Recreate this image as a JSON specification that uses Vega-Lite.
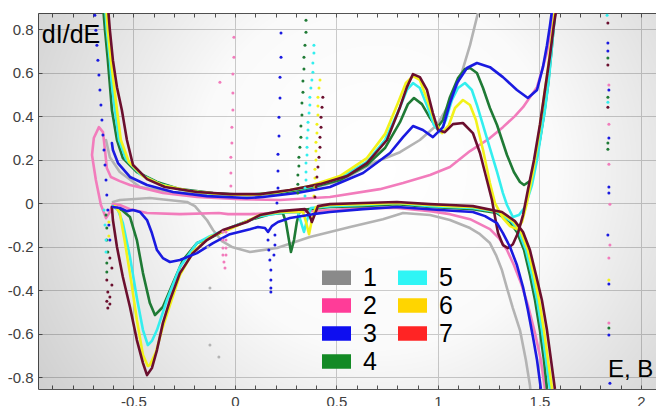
{
  "$schema": "https://vega.github.io/schema/vega-lite/v6.json",
  "width": 618,
  "height": 376,
  "autosize": {"type": "none"},
  "padding": {"left": 38, "top": 13, "right": 0, "bottom": 17},
  "background": "white",
  "config": {
    "view": {"stroke": null},
    "axis": {"labelFont": "Liberation Sans", "labelFontSize": 15, "labelColor": "#404040", "domainColor": "#555555", "tickColor": "#555555", "gridColor": "#cdcdcd", "title": null, "labelOverlap": false, "labelFlush": false}
  },
  "datasets": {
    "lines": [
      {"s":"1","b":"1u","i":1,"E":-0.635,"v":0.290},{"s":"1","b":"1u","i":2,"E":-0.616,"v":0.211},{"s":"1","b":"1u","i":3,"E":-0.567,"v":0.143},{"s":"1","b":"1u","i":4,"E":-0.468,"v":0.074},{"s":"1","b":"1u","i":5,"E":-0.320,"v":0.051},{"s":"1","b":"1u","i":6,"E":-0.172,"v":0.041},{"s":"1","b":"1u","i":7,"E":0.074,"v":0.037},{"s":"1","b":"1u","i":8,"E":0.320,"v":0.055},{"s":"1","b":"1u","i":9,"E":0.517,"v":0.101},{"s":"1","b":"1u","i":10,"E":0.680,"v":0.184},{"s":"1","b":"1u","i":11,"E":0.813,"v":0.234},{"s":"1","b":"1u","i":12,"E":0.911,"v":0.290},{"s":"1","b":"1u","i":13,"E":0.995,"v":0.359},{"s":"1","b":"1u","i":14,"E":1.059,"v":0.460},{"s":"1","b":"1u","i":15,"E":1.118,"v":0.602},{"s":"1","b":"1u","i":16,"E":1.158,"v":0.726},{"s":"1","b":"1u","i":17,"E":1.197,"v":0.874},{"s":"1","b":"1u","i":18,"E":1.217,"v":0.956},
      {"s":"1","b":"1l","i":1,"E":1.458,"v":-0.883},{"s":"1","b":"1l","i":2,"E":1.453,"v":-0.837},{"s":"1","b":"1l","i":3,"E":1.433,"v":-0.722},{"s":"1","b":"1l","i":4,"E":1.404,"v":-0.584},{"s":"1","b":"1l","i":5,"E":1.369,"v":-0.483},{"s":"1","b":"1l","i":6,"E":1.340,"v":-0.391},{"s":"1","b":"1l","i":7,"E":1.315,"v":-0.308},{"s":"1","b":"1l","i":8,"E":1.286,"v":-0.239},{"s":"1","b":"1l","i":9,"E":1.256,"v":-0.184},{"s":"1","b":"1l","i":10,"E":1.207,"v":-0.143},{"s":"1","b":"1l","i":11,"E":1.158,"v":-0.115},{"s":"1","b":"1l","i":12,"E":1.059,"v":-0.078},{"s":"1","b":"1l","i":13,"E":0.961,"v":-0.055},{"s":"1","b":"1l","i":14,"E":0.828,"v":-0.046},{"s":"1","b":"1l","i":15,"E":0.729,"v":-0.074},{"s":"1","b":"1l","i":16,"E":0.567,"v":-0.110},{"s":"1","b":"1l","i":17,"E":0.369,"v":-0.156},{"s":"1","b":"1l","i":18,"E":0.207,"v":-0.207},{"s":"1","b":"1l","i":19,"E":0.074,"v":-0.225},{"s":"1","b":"1l","i":20,"E":-0.015,"v":-0.202},{"s":"1","b":"1l","i":21,"E":-0.064,"v":-0.175},{"s":"1","b":"1l","i":22,"E":-0.108,"v":-0.124},{"s":"1","b":"1l","i":23,"E":-0.138,"v":-0.078},{"s":"1","b":"1l","i":24,"E":-0.197,"v":-0.014},{"s":"1","b":"1l","i":25,"E":-0.236,"v":0.005},{"s":"1","b":"1l","i":26,"E":-0.419,"v":0.023},{"s":"1","b":"1l","i":27,"E":-0.567,"v":0.014},{"s":"1","b":"1l","i":28,"E":-0.601,"v":0.005},
      {"s":"2","b":"2a","i":1,"E":1.532,"v":-0.883},{"s":"2","b":"2a","i":2,"E":1.527,"v":-0.855},{"s":"2","b":"2a","i":3,"E":1.507,"v":-0.722},{"s":"2","b":"2a","i":4,"E":1.478,"v":-0.598},{"s":"2","b":"2a","i":5,"E":1.443,"v":-0.469},{"s":"2","b":"2a","i":6,"E":1.409,"v":-0.368},{"s":"2","b":"2a","i":7,"E":1.374,"v":-0.285},{"s":"2","b":"2a","i":8,"E":1.340,"v":-0.216},{"s":"2","b":"2a","i":9,"E":1.300,"v":-0.161},{"s":"2","b":"2a","i":10,"E":1.256,"v":-0.120},{"s":"2","b":"2a","i":11,"E":1.158,"v":-0.074},{"s":"2","b":"2a","i":12,"E":1.059,"v":-0.051},{"s":"2","b":"2a","i":13,"E":0.961,"v":-0.037},{"s":"2","b":"2a","i":14,"E":0.798,"v":-0.023},{"s":"2","b":"2a","i":15,"E":0.631,"v":-0.023},{"s":"2","b":"2a","i":16,"E":0.468,"v":-0.032},{"s":"2","b":"2a","i":17,"E":0.320,"v":-0.041},{"s":"2","b":"2a","i":18,"E":0.172,"v":-0.046},{"s":"2","b":"2a","i":19,"E":0.074,"v":-0.051},{"s":"2","b":"2a","i":20,"E":-0.034,"v":-0.051},{"s":"2","b":"2a","i":21,"E":-0.079,"v":-0.046},{"s":"2","b":"2a","i":22,"E":-0.271,"v":-0.051},{"s":"2","b":"2a","i":23,"E":-0.433,"v":-0.046},{"s":"2","b":"2a","i":24,"E":-0.517,"v":-0.028},{"s":"2","b":"2a","i":25,"E":-0.567,"v":-0.009},{"s":"2","b":"2a","i":26,"E":-0.601,"v":-0.005},{"s":"2","b":"2a","i":27,"E":-0.616,"v":-0.041},{"s":"2","b":"2a","i":28,"E":-0.635,"v":-0.069},{"s":"2","b":"2a","i":29,"E":-0.660,"v":-0.009},{"s":"2","b":"2a","i":30,"E":-0.685,"v":0.106},{"s":"2","b":"2a","i":31,"E":-0.704,"v":0.221},{"s":"2","b":"2a","i":32,"E":-0.695,"v":0.299},{"s":"2","b":"2a","i":33,"E":-0.670,"v":0.349},{"s":"2","b":"2a","i":34,"E":-0.650,"v":0.326},{"s":"2","b":"2a","i":35,"E":-0.640,"v":0.244},{"s":"2","b":"2a","i":36,"E":-0.631,"v":0.161},{"s":"2","b":"2a","i":37,"E":-0.611,"v":0.120},{"s":"2","b":"2a","i":38,"E":-0.567,"v":0.101},{"s":"2","b":"2a","i":39,"E":-0.517,"v":0.083},{"s":"2","b":"2a","i":40,"E":-0.355,"v":0.046},{"s":"2","b":"2a","i":41,"E":-0.187,"v":0.028},{"s":"2","b":"2a","i":42,"E":0.025,"v":0.018},{"s":"2","b":"2a","i":43,"E":0.222,"v":0.014},{"s":"2","b":"2a","i":44,"E":0.468,"v":0.028},{"s":"2","b":"2a","i":45,"E":0.714,"v":0.064},{"s":"2","b":"2a","i":46,"E":0.828,"v":0.092},{"s":"2","b":"2a","i":47,"E":0.961,"v":0.129},{"s":"2","b":"2a","i":48,"E":1.059,"v":0.166},{"s":"2","b":"2a","i":49,"E":1.158,"v":0.239},{"s":"2","b":"2a","i":50,"E":1.256,"v":0.299},{"s":"2","b":"2a","i":51,"E":1.320,"v":0.349},{"s":"2","b":"2a","i":52,"E":1.379,"v":0.400},{"s":"2","b":"2a","i":53,"E":1.419,"v":0.441},{"s":"2","b":"2a","i":54,"E":1.453,"v":0.487},{"s":"2","b":"2a","i":55,"E":1.488,"v":0.533},{"s":"2","b":"2a","i":56,"E":1.517,"v":0.625},{"s":"2","b":"2a","i":57,"E":1.537,"v":0.694},{"s":"2","b":"2a","i":58,"E":1.552,"v":0.782},{"s":"2","b":"2a","i":59,"E":1.567,"v":0.874},{"s":"2","b":"2a","i":60,"E":1.576,"v":0.933},
      {"s":"4","b":"4l","i":1,"E":1.542,"v":-0.883},{"s":"4","b":"4l","i":2,"E":1.537,"v":-0.855},{"s":"4","b":"4l","i":3,"E":1.522,"v":-0.722},{"s":"4","b":"4l","i":4,"E":1.502,"v":-0.584},{"s":"4","b":"4l","i":5,"E":1.478,"v":-0.446},{"s":"4","b":"4l","i":6,"E":1.453,"v":-0.331},{"s":"4","b":"4l","i":7,"E":1.424,"v":-0.216},{"s":"4","b":"4l","i":8,"E":1.389,"v":-0.133},{"s":"4","b":"4l","i":9,"E":1.355,"v":-0.087},{"s":"4","b":"4l","i":10,"E":1.291,"v":-0.046},{"s":"4","b":"4l","i":11,"E":1.172,"v":-0.028},{"s":"4","b":"4l","i":12,"E":1.059,"v":-0.023},{"s":"4","b":"4l","i":13,"E":0.961,"v":-0.018},{"s":"4","b":"4l","i":14,"E":0.798,"v":-0.005},{"s":"4","b":"4l","i":15,"E":0.631,"v":-0.014},{"s":"4","b":"4l","i":16,"E":0.468,"v":-0.018},{"s":"4","b":"4l","i":17,"E":0.320,"v":-0.032},{"s":"4","b":"4l","i":18,"E":0.305,"v":-0.087},{"s":"4","b":"4l","i":19,"E":0.291,"v":-0.170},{"s":"4","b":"4l","i":20,"E":0.276,"v":-0.225},{"s":"4","b":"4l","i":21,"E":0.266,"v":-0.170},{"s":"4","b":"4l","i":22,"E":0.251,"v":-0.087},{"s":"4","b":"4l","i":23,"E":0.236,"v":-0.046},{"s":"4","b":"4l","i":24,"E":0.172,"v":-0.051},{"s":"4","b":"4l","i":25,"E":0.074,"v":-0.078},{"s":"4","b":"4l","i":26,"E":-0.025,"v":-0.115},{"s":"4","b":"4l","i":27,"E":-0.123,"v":-0.161},{"s":"4","b":"4l","i":28,"E":-0.187,"v":-0.184},{"s":"4","b":"4l","i":29,"E":-0.256,"v":-0.262},{"s":"4","b":"4l","i":30,"E":-0.305,"v":-0.368},{"s":"4","b":"4l","i":31,"E":-0.355,"v":-0.478},{"s":"4","b":"4l","i":32,"E":-0.394,"v":-0.515},{"s":"4","b":"4l","i":33,"E":-0.419,"v":-0.460},{"s":"4","b":"4l","i":34,"E":-0.453,"v":-0.322},{"s":"4","b":"4l","i":35,"E":-0.483,"v":-0.170},{"s":"4","b":"4l","i":36,"E":-0.517,"v":-0.064},{"s":"4","b":"4l","i":37,"E":-0.557,"v":-0.032},{"s":"4","b":"4l","i":38,"E":-0.591,"v":-0.018},
      {"s":"4","b":"4u","i":1,"E":-0.650,"v":0.910},{"s":"4","b":"4u","i":2,"E":-0.640,"v":0.795},{"s":"4","b":"4u","i":3,"E":-0.626,"v":0.657},{"s":"4","b":"4u","i":4,"E":-0.616,"v":0.543},{"s":"4","b":"4u","i":5,"E":-0.606,"v":0.428},{"s":"4","b":"4u","i":6,"E":-0.581,"v":0.290},{"s":"4","b":"4u","i":7,"E":-0.552,"v":0.207},{"s":"4","b":"4u","i":8,"E":-0.483,"v":0.143},{"s":"4","b":"4u","i":9,"E":-0.384,"v":0.097},{"s":"4","b":"4u","i":10,"E":-0.271,"v":0.064},{"s":"4","b":"4u","i":11,"E":-0.108,"v":0.046},{"s":"4","b":"4u","i":12,"E":0.059,"v":0.037},{"s":"4","b":"4u","i":13,"E":0.222,"v":0.046},{"s":"4","b":"4u","i":14,"E":0.369,"v":0.069},{"s":"4","b":"4u","i":15,"E":0.517,"v":0.106},{"s":"4","b":"4u","i":16,"E":0.650,"v":0.175},{"s":"4","b":"4u","i":17,"E":0.739,"v":0.253},{"s":"4","b":"4u","i":18,"E":0.813,"v":0.372},{"s":"4","b":"4u","i":19,"E":0.852,"v":0.455},{"s":"4","b":"4u","i":20,"E":0.882,"v":0.483},{"s":"4","b":"4u","i":21,"E":0.921,"v":0.455},{"s":"4","b":"4u","i":22,"E":0.961,"v":0.391},{"s":"4","b":"4u","i":23,"E":0.995,"v":0.345},{"s":"4","b":"4u","i":24,"E":1.025,"v":0.382},{"s":"4","b":"4u","i":25,"E":1.059,"v":0.487},{"s":"4","b":"4u","i":26,"E":1.099,"v":0.575},{"s":"4","b":"4u","i":27,"E":1.133,"v":0.616},{"s":"4","b":"4u","i":28,"E":1.158,"v":0.621},{"s":"4","b":"4u","i":29,"E":1.192,"v":0.598},{"s":"4","b":"4u","i":30,"E":1.222,"v":0.529},{"s":"4","b":"4u","i":31,"E":1.256,"v":0.437},{"s":"4","b":"4u","i":32,"E":1.291,"v":0.359},{"s":"4","b":"4u","i":33,"E":1.340,"v":0.221},{"s":"4","b":"4u","i":34,"E":1.374,"v":0.143},{"s":"4","b":"4u","i":35,"E":1.404,"v":0.097},{"s":"4","b":"4u","i":36,"E":1.424,"v":0.083},{"s":"4","b":"4u","i":37,"E":1.453,"v":0.101},{"s":"4","b":"4u","i":38,"E":1.478,"v":0.175},{"s":"4","b":"4u","i":39,"E":1.502,"v":0.290},{"s":"4","b":"4u","i":40,"E":1.522,"v":0.405},{"s":"4","b":"4u","i":41,"E":1.542,"v":0.543},{"s":"4","b":"4u","i":42,"E":1.557,"v":0.680},{"s":"4","b":"4u","i":43,"E":1.571,"v":0.818},{"s":"4","b":"4u","i":44,"E":1.581,"v":0.910},
      {"s":"5","b":"5l","i":1,"E":1.557,"v":-0.883},{"s":"5","b":"5l","i":2,"E":1.552,"v":-0.855},{"s":"5","b":"5l","i":3,"E":1.532,"v":-0.722},{"s":"5","b":"5l","i":4,"E":1.512,"v":-0.584},{"s":"5","b":"5l","i":5,"E":1.488,"v":-0.446},{"s":"5","b":"5l","i":6,"E":1.463,"v":-0.331},{"s":"5","b":"5l","i":7,"E":1.433,"v":-0.216},{"s":"5","b":"5l","i":8,"E":1.399,"v":-0.133},{"s":"5","b":"5l","i":9,"E":1.365,"v":-0.087},{"s":"5","b":"5l","i":10,"E":1.291,"v":-0.041},{"s":"5","b":"5l","i":11,"E":1.172,"v":-0.023},{"s":"5","b":"5l","i":12,"E":1.059,"v":-0.018},{"s":"5","b":"5l","i":13,"E":0.961,"v":-0.014},{"s":"5","b":"5l","i":14,"E":0.798,"v":0.000},{"s":"5","b":"5l","i":15,"E":0.631,"v":-0.009},{"s":"5","b":"5l","i":16,"E":0.468,"v":-0.014},{"s":"5","b":"5l","i":17,"E":0.374,"v":-0.023},{"s":"5","b":"5l","i":18,"E":0.355,"v":-0.078},{"s":"5","b":"5l","i":19,"E":0.340,"v":-0.133},{"s":"5","b":"5l","i":20,"E":0.325,"v":-0.087},{"s":"5","b":"5l","i":21,"E":0.310,"v":-0.041},{"s":"5","b":"5l","i":22,"E":0.222,"v":-0.046},{"s":"5","b":"5l","i":23,"E":0.123,"v":-0.060},{"s":"5","b":"5l","i":24,"E":0.059,"v":-0.083},{"s":"5","b":"5l","i":25,"E":-0.025,"v":-0.115},{"s":"5","b":"5l","i":26,"E":-0.123,"v":-0.152},{"s":"5","b":"5l","i":27,"E":-0.187,"v":-0.184},{"s":"5","b":"5l","i":28,"E":-0.271,"v":-0.294},{"s":"5","b":"5l","i":29,"E":-0.335,"v":-0.446},{"s":"5","b":"5l","i":30,"E":-0.384,"v":-0.584},{"s":"5","b":"5l","i":31,"E":-0.409,"v":-0.634},{"s":"5","b":"5l","i":32,"E":-0.429,"v":-0.653},{"s":"5","b":"5l","i":33,"E":-0.453,"v":-0.584},{"s":"5","b":"5l","i":34,"E":-0.483,"v":-0.437},{"s":"5","b":"5l","i":35,"E":-0.517,"v":-0.248},{"s":"5","b":"5l","i":36,"E":-0.552,"v":-0.092},{"s":"5","b":"5l","i":37,"E":-0.576,"v":-0.032},{"s":"5","b":"5l","i":38,"E":-0.601,"v":-0.014},
      {"s":"5","b":"5u","i":1,"E":-0.640,"v":0.910},{"s":"5","b":"5u","i":2,"E":-0.631,"v":0.795},{"s":"5","b":"5u","i":3,"E":-0.616,"v":0.657},{"s":"5","b":"5u","i":4,"E":-0.606,"v":0.543},{"s":"5","b":"5u","i":5,"E":-0.591,"v":0.428},{"s":"5","b":"5u","i":6,"E":-0.571,"v":0.290},{"s":"5","b":"5u","i":7,"E":-0.537,"v":0.202},{"s":"5","b":"5u","i":8,"E":-0.468,"v":0.133},{"s":"5","b":"5u","i":9,"E":-0.369,"v":0.087},{"s":"5","b":"5u","i":10,"E":-0.256,"v":0.060},{"s":"5","b":"5u","i":11,"E":-0.099,"v":0.041},{"s":"5","b":"5u","i":12,"E":0.059,"v":0.037},{"s":"5","b":"5u","i":13,"E":0.222,"v":0.051},{"s":"5","b":"5u","i":14,"E":0.369,"v":0.074},{"s":"5","b":"5u","i":15,"E":0.517,"v":0.115},{"s":"5","b":"5u","i":16,"E":0.650,"v":0.189},{"s":"5","b":"5u","i":17,"E":0.739,"v":0.290},{"s":"5","b":"5u","i":18,"E":0.803,"v":0.418},{"s":"5","b":"5u","i":19,"E":0.847,"v":0.520},{"s":"5","b":"5u","i":20,"E":0.877,"v":0.552},{"s":"5","b":"5u","i":21,"E":0.911,"v":0.529},{"s":"5","b":"5u","i":22,"E":0.951,"v":0.437},{"s":"5","b":"5u","i":23,"E":0.980,"v":0.359},{"s":"5","b":"5u","i":24,"E":1.010,"v":0.326},{"s":"5","b":"5u","i":25,"E":1.039,"v":0.382},{"s":"5","b":"5u","i":26,"E":1.069,"v":0.474},{"s":"5","b":"5u","i":27,"E":1.099,"v":0.529},{"s":"5","b":"5u","i":28,"E":1.133,"v":0.552},{"s":"5","b":"5u","i":29,"E":1.167,"v":0.520},{"s":"5","b":"5u","i":30,"E":1.192,"v":0.451},{"s":"5","b":"5u","i":31,"E":1.241,"v":0.299},{"s":"5","b":"5u","i":32,"E":1.291,"v":0.143},{"s":"5","b":"5u","i":33,"E":1.320,"v":0.046},{"s":"5","b":"5u","i":34,"E":1.340,"v":-0.009},{"s":"5","b":"5u","i":35,"E":1.369,"v":-0.064},{"s":"5","b":"5u","i":36,"E":1.399,"v":-0.055},{"s":"5","b":"5u","i":37,"E":1.429,"v":-0.018},{"s":"5","b":"5u","i":38,"E":1.463,"v":0.083},{"s":"5","b":"5u","i":39,"E":1.488,"v":0.198},{"s":"5","b":"5u","i":40,"E":1.507,"v":0.313},{"s":"5","b":"5u","i":41,"E":1.527,"v":0.428},{"s":"5","b":"5u","i":42,"E":1.547,"v":0.575},{"s":"5","b":"5u","i":43,"E":1.562,"v":0.726},{"s":"5","b":"5u","i":44,"E":1.576,"v":0.864},{"s":"5","b":"5u","i":45,"E":1.581,"v":0.910},
      {"s":"6","b":"6l","i":1,"E":1.567,"v":-0.883},{"s":"6","b":"6l","i":2,"E":1.562,"v":-0.855},{"s":"6","b":"6l","i":3,"E":1.542,"v":-0.722},{"s":"6","b":"6l","i":4,"E":1.522,"v":-0.584},{"s":"6","b":"6l","i":5,"E":1.498,"v":-0.446},{"s":"6","b":"6l","i":6,"E":1.473,"v":-0.331},{"s":"6","b":"6l","i":7,"E":1.443,"v":-0.216},{"s":"6","b":"6l","i":8,"E":1.409,"v":-0.133},{"s":"6","b":"6l","i":9,"E":1.374,"v":-0.087},{"s":"6","b":"6l","i":10,"E":1.305,"v":-0.041},{"s":"6","b":"6l","i":11,"E":1.172,"v":-0.018},{"s":"6","b":"6l","i":12,"E":1.059,"v":-0.014},{"s":"6","b":"6l","i":13,"E":0.961,"v":-0.009},{"s":"6","b":"6l","i":14,"E":0.798,"v":0.000},{"s":"6","b":"6l","i":15,"E":0.631,"v":-0.005},{"s":"6","b":"6l","i":16,"E":0.468,"v":-0.009},{"s":"6","b":"6l","i":17,"E":0.399,"v":-0.018},{"s":"6","b":"6l","i":18,"E":0.379,"v":-0.078},{"s":"6","b":"6l","i":19,"E":0.365,"v":-0.143},{"s":"6","b":"6l","i":20,"E":0.350,"v":-0.087},{"s":"6","b":"6l","i":21,"E":0.335,"v":-0.041},{"s":"6","b":"6l","i":22,"E":0.222,"v":-0.041},{"s":"6","b":"6l","i":23,"E":0.123,"v":-0.055},{"s":"6","b":"6l","i":24,"E":0.059,"v":-0.083},{"s":"6","b":"6l","i":25,"E":-0.025,"v":-0.120},{"s":"6","b":"6l","i":26,"E":-0.123,"v":-0.156},{"s":"6","b":"6l","i":27,"E":-0.207,"v":-0.225},{"s":"6","b":"6l","i":28,"E":-0.271,"v":-0.331},{"s":"6","b":"6l","i":29,"E":-0.320,"v":-0.469},{"s":"6","b":"6l","i":30,"E":-0.360,"v":-0.584},{"s":"6","b":"6l","i":31,"E":-0.389,"v":-0.685},{"s":"6","b":"6l","i":32,"E":-0.419,"v":-0.745},{"s":"6","b":"6l","i":33,"E":-0.429,"v":-0.749},{"s":"6","b":"6l","i":34,"E":-0.453,"v":-0.699},{"s":"6","b":"6l","i":35,"E":-0.483,"v":-0.538},{"s":"6","b":"6l","i":36,"E":-0.512,"v":-0.354},{"s":"6","b":"6l","i":37,"E":-0.542,"v":-0.179},{"s":"6","b":"6l","i":38,"E":-0.567,"v":-0.046},{"s":"6","b":"6l","i":39,"E":-0.591,"v":-0.014},
      {"s":"6","b":"6u","i":1,"E":-0.635,"v":0.910},{"s":"6","b":"6u","i":2,"E":-0.626,"v":0.795},{"s":"6","b":"6u","i":3,"E":-0.611,"v":0.657},{"s":"6","b":"6u","i":4,"E":-0.596,"v":0.543},{"s":"6","b":"6u","i":5,"E":-0.581,"v":0.428},{"s":"6","b":"6u","i":6,"E":-0.562,"v":0.290},{"s":"6","b":"6u","i":7,"E":-0.522,"v":0.189},{"s":"6","b":"6u","i":8,"E":-0.453,"v":0.124},{"s":"6","b":"6u","i":9,"E":-0.360,"v":0.083},{"s":"6","b":"6u","i":10,"E":-0.222,"v":0.055},{"s":"6","b":"6u","i":11,"E":-0.074,"v":0.041},{"s":"6","b":"6u","i":12,"E":0.074,"v":0.037},{"s":"6","b":"6u","i":13,"E":0.222,"v":0.051},{"s":"6","b":"6u","i":14,"E":0.369,"v":0.078},{"s":"6","b":"6u","i":15,"E":0.517,"v":0.124},{"s":"6","b":"6u","i":16,"E":0.650,"v":0.207},{"s":"6","b":"6u","i":17,"E":0.739,"v":0.317},{"s":"6","b":"6u","i":18,"E":0.803,"v":0.460},{"s":"6","b":"6u","i":19,"E":0.842,"v":0.552},{"s":"6","b":"6u","i":20,"E":0.877,"v":0.584},{"s":"6","b":"6u","i":21,"E":0.911,"v":0.566},{"s":"6","b":"6u","i":22,"E":0.951,"v":0.464},{"s":"6","b":"6u","i":23,"E":0.985,"v":0.372},{"s":"6","b":"6u","i":24,"E":1.020,"v":0.322},{"s":"6","b":"6u","i":25,"E":1.054,"v":0.359},{"s":"6","b":"6u","i":26,"E":1.084,"v":0.437},{"s":"6","b":"6u","i":27,"E":1.123,"v":0.474},{"s":"6","b":"6u","i":28,"E":1.158,"v":0.451},{"s":"6","b":"6u","i":29,"E":1.187,"v":0.382},{"s":"6","b":"6u","i":30,"E":1.222,"v":0.244},{"s":"6","b":"6u","i":31,"E":1.256,"v":0.092},{"s":"6","b":"6u","i":32,"E":1.281,"v":0.000},{"s":"6","b":"6u","i":33,"E":1.320,"v":-0.069},{"s":"6","b":"6u","i":34,"E":1.355,"v":-0.106},{"s":"6","b":"6u","i":35,"E":1.389,"v":-0.120},{"s":"6","b":"6u","i":36,"E":1.414,"v":-0.087},{"s":"6","b":"6u","i":37,"E":1.438,"v":0.000},{"s":"6","b":"6u","i":38,"E":1.468,"v":0.143},{"s":"6","b":"6u","i":39,"E":1.493,"v":0.290},{"s":"6","b":"6u","i":40,"E":1.517,"v":0.451},{"s":"6","b":"6u","i":41,"E":1.542,"v":0.621},{"s":"6","b":"6u","i":42,"E":1.562,"v":0.772},{"s":"6","b":"6u","i":43,"E":1.576,"v":0.887},{"s":"6","b":"6u","i":44,"E":1.585,"v":0.940},
      {"s":"7","b":"7l","i":1,"E":1.581,"v":-0.883},{"s":"7","b":"7l","i":2,"E":1.576,"v":-0.855},{"s":"7","b":"7l","i":3,"E":1.557,"v":-0.722},{"s":"7","b":"7l","i":4,"E":1.537,"v":-0.584},{"s":"7","b":"7l","i":5,"E":1.512,"v":-0.446},{"s":"7","b":"7l","i":6,"E":1.483,"v":-0.331},{"s":"7","b":"7l","i":7,"E":1.453,"v":-0.216},{"s":"7","b":"7l","i":8,"E":1.419,"v":-0.133},{"s":"7","b":"7l","i":9,"E":1.379,"v":-0.083},{"s":"7","b":"7l","i":10,"E":1.315,"v":-0.041},{"s":"7","b":"7l","i":11,"E":1.172,"v":-0.014},{"s":"7","b":"7l","i":12,"E":1.059,"v":-0.009},{"s":"7","b":"7l","i":13,"E":0.961,"v":-0.005},{"s":"7","b":"7l","i":14,"E":0.798,"v":0.005},{"s":"7","b":"7l","i":15,"E":0.631,"v":0.000},{"s":"7","b":"7l","i":16,"E":0.468,"v":-0.005},{"s":"7","b":"7l","i":17,"E":0.409,"v":-0.014},{"s":"7","b":"7l","i":18,"E":0.394,"v":-0.051},{"s":"7","b":"7l","i":19,"E":0.379,"v":-0.087},{"s":"7","b":"7l","i":20,"E":0.365,"v":-0.051},{"s":"7","b":"7l","i":21,"E":0.345,"v":-0.028},{"s":"7","b":"7l","i":22,"E":0.222,"v":-0.037},{"s":"7","b":"7l","i":23,"E":0.123,"v":-0.055},{"s":"7","b":"7l","i":24,"E":0.059,"v":-0.087},{"s":"7","b":"7l","i":25,"E":-0.059,"v":-0.124},{"s":"7","b":"7l","i":26,"E":-0.138,"v":-0.170},{"s":"7","b":"7l","i":27,"E":-0.207,"v":-0.230},{"s":"7","b":"7l","i":28,"E":-0.271,"v":-0.322},{"s":"7","b":"7l","i":29,"E":-0.320,"v":-0.446},{"s":"7","b":"7l","i":30,"E":-0.355,"v":-0.552},{"s":"7","b":"7l","i":31,"E":-0.384,"v":-0.676},{"s":"7","b":"7l","i":32,"E":-0.409,"v":-0.759},{"s":"7","b":"7l","i":33,"E":-0.433,"v":-0.791},{"s":"7","b":"7l","i":34,"E":-0.453,"v":-0.736},{"s":"7","b":"7l","i":35,"E":-0.483,"v":-0.630},{"s":"7","b":"7l","i":36,"E":-0.517,"v":-0.478},{"s":"7","b":"7l","i":37,"E":-0.552,"v":-0.340},{"s":"7","b":"7l","i":38,"E":-0.581,"v":-0.202},{"s":"7","b":"7l","i":39,"E":-0.601,"v":-0.078},{"s":"7","b":"7l","i":40,"E":-0.606,"v":-0.018},
      {"s":"7","b":"7u","i":1,"E":-0.626,"v":0.910},{"s":"7","b":"7u","i":2,"E":-0.616,"v":0.795},{"s":"7","b":"7u","i":3,"E":-0.601,"v":0.657},{"s":"7","b":"7u","i":4,"E":-0.581,"v":0.533},{"s":"7","b":"7u","i":5,"E":-0.557,"v":0.428},{"s":"7","b":"7u","i":6,"E":-0.532,"v":0.290},{"s":"7","b":"7u","i":7,"E":-0.502,"v":0.175},{"s":"7","b":"7u","i":8,"E":-0.433,"v":0.110},{"s":"7","b":"7u","i":9,"E":-0.345,"v":0.074},{"s":"7","b":"7u","i":10,"E":-0.187,"v":0.051},{"s":"7","b":"7u","i":11,"E":-0.025,"v":0.041},{"s":"7","b":"7u","i":12,"E":0.123,"v":0.041},{"s":"7","b":"7u","i":13,"E":0.271,"v":0.060},{"s":"7","b":"7u","i":14,"E":0.419,"v":0.087},{"s":"7","b":"7u","i":15,"E":0.552,"v":0.124},{"s":"7","b":"7u","i":16,"E":0.650,"v":0.184},{"s":"7","b":"7u","i":17,"E":0.749,"v":0.290},{"s":"7","b":"7u","i":18,"E":0.813,"v":0.441},{"s":"7","b":"7u","i":19,"E":0.847,"v":0.533},{"s":"7","b":"7u","i":20,"E":0.877,"v":0.593},{"s":"7","b":"7u","i":21,"E":0.911,"v":0.579},{"s":"7","b":"7u","i":22,"E":0.946,"v":0.520},{"s":"7","b":"7u","i":23,"E":0.975,"v":0.414},{"s":"7","b":"7u","i":24,"E":1.000,"v":0.336},{"s":"7","b":"7u","i":25,"E":1.034,"v":0.326},{"s":"7","b":"7u","i":26,"E":1.074,"v":0.363},{"s":"7","b":"7u","i":27,"E":1.123,"v":0.368},{"s":"7","b":"7u","i":28,"E":1.172,"v":0.322},{"s":"7","b":"7u","i":29,"E":1.207,"v":0.230},{"s":"7","b":"7u","i":30,"E":1.241,"v":0.106},{"s":"7","b":"7u","i":31,"E":1.266,"v":0.014},{"s":"7","b":"7u","i":32,"E":1.281,"v":-0.064},{"s":"7","b":"7u","i":33,"E":1.296,"v":-0.138},{"s":"7","b":"7u","i":34,"E":1.320,"v":-0.193},{"s":"7","b":"7u","i":35,"E":1.345,"v":-0.207},{"s":"7","b":"7u","i":36,"E":1.369,"v":-0.189},{"s":"7","b":"7u","i":37,"E":1.394,"v":-0.138},{"s":"7","b":"7u","i":38,"E":1.419,"v":-0.055},{"s":"7","b":"7u","i":39,"E":1.443,"v":0.060},{"s":"7","b":"7u","i":40,"E":1.473,"v":0.198},{"s":"7","b":"7u","i":41,"E":1.502,"v":0.359},{"s":"7","b":"7u","i":42,"E":1.527,"v":0.520},{"s":"7","b":"7u","i":43,"E":1.552,"v":0.680},{"s":"7","b":"7u","i":44,"E":1.571,"v":0.818},{"s":"7","b":"7u","i":45,"E":1.586,"v":0.910},
      {"s":"3","b":"3l","i":1,"E":1.512,"v":-0.883},{"s":"3","b":"3l","i":2,"E":1.507,"v":-0.855},{"s":"3","b":"3l","i":3,"E":1.488,"v":-0.722},{"s":"3","b":"3l","i":4,"E":1.468,"v":-0.616},{"s":"3","b":"3l","i":5,"E":1.443,"v":-0.492},{"s":"3","b":"3l","i":6,"E":1.419,"v":-0.386},{"s":"3","b":"3l","i":7,"E":1.389,"v":-0.285},{"s":"3","b":"3l","i":8,"E":1.355,"v":-0.202},{"s":"3","b":"3l","i":9,"E":1.320,"v":-0.138},{"s":"3","b":"3l","i":10,"E":1.291,"v":-0.092},{"s":"3","b":"3l","i":11,"E":1.232,"v":-0.060},{"s":"3","b":"3l","i":12,"E":1.172,"v":-0.041},{"s":"3","b":"3l","i":13,"E":1.010,"v":-0.032},{"s":"3","b":"3l","i":14,"E":0.798,"v":-0.018},{"s":"3","b":"3l","i":15,"E":0.631,"v":-0.028},{"s":"3","b":"3l","i":16,"E":0.468,"v":-0.041},{"s":"3","b":"3l","i":17,"E":0.384,"v":-0.051},{"s":"3","b":"3l","i":18,"E":0.271,"v":-0.069},{"s":"3","b":"3l","i":19,"E":0.212,"v":-0.087},{"s":"3","b":"3l","i":20,"E":0.182,"v":-0.106},{"s":"3","b":"3l","i":21,"E":0.163,"v":-0.133},{"s":"3","b":"3l","i":22,"E":0.148,"v":-0.115},{"s":"3","b":"3l","i":23,"E":0.113,"v":-0.110},{"s":"3","b":"3l","i":24,"E":0.074,"v":-0.120},{"s":"3","b":"3l","i":25,"E":-0.025,"v":-0.143},{"s":"3","b":"3l","i":26,"E":-0.108,"v":-0.184},{"s":"3","b":"3l","i":27,"E":-0.187,"v":-0.230},{"s":"3","b":"3l","i":28,"E":-0.271,"v":-0.262},{"s":"3","b":"3l","i":29,"E":-0.320,"v":-0.271},{"s":"3","b":"3l","i":30,"E":-0.355,"v":-0.253},{"s":"3","b":"3l","i":31,"E":-0.384,"v":-0.216},{"s":"3","b":"3l","i":32,"E":-0.409,"v":-0.138},{"s":"3","b":"3l","i":33,"E":-0.433,"v":-0.078},{"s":"3","b":"3l","i":34,"E":-0.468,"v":-0.041},{"s":"3","b":"3l","i":35,"E":-0.502,"v":-0.032},{"s":"3","b":"3l","i":36,"E":-0.532,"v":-0.037},{"s":"3","b":"3l","i":37,"E":-0.567,"v":-0.023},{"s":"3","b":"3l","i":38,"E":-0.601,"v":-0.018},
      {"s":"3","b":"3u","i":1,"E":-0.606,"v":0.276},{"s":"3","b":"3u","i":2,"E":-0.601,"v":0.244},{"s":"3","b":"3u","i":3,"E":-0.576,"v":0.184},{"s":"3","b":"3u","i":4,"E":-0.517,"v":0.120},{"s":"3","b":"3u","i":5,"E":-0.433,"v":0.083},{"s":"3","b":"3u","i":6,"E":-0.305,"v":0.051},{"s":"3","b":"3u","i":7,"E":-0.138,"v":0.032},{"s":"3","b":"3u","i":8,"E":0.059,"v":0.023},{"s":"3","b":"3u","i":9,"E":0.138,"v":0.028},{"s":"3","b":"3u","i":10,"E":0.305,"v":0.046},{"s":"3","b":"3u","i":11,"E":0.468,"v":0.074},{"s":"3","b":"3u","i":12,"E":0.631,"v":0.138},{"s":"3","b":"3u","i":13,"E":0.764,"v":0.230},{"s":"3","b":"3u","i":14,"E":0.828,"v":0.303},{"s":"3","b":"3u","i":15,"E":0.877,"v":0.354},{"s":"3","b":"3u","i":16,"E":0.926,"v":0.336},{"s":"3","b":"3u","i":17,"E":0.975,"v":0.303},{"s":"3","b":"3u","i":18,"E":1.025,"v":0.349},{"s":"3","b":"3u","i":19,"E":1.059,"v":0.460},{"s":"3","b":"3u","i":20,"E":1.094,"v":0.552},{"s":"3","b":"3u","i":21,"E":1.143,"v":0.621},{"s":"3","b":"3u","i":22,"E":1.192,"v":0.644},{"s":"3","b":"3u","i":23,"E":1.256,"v":0.625},{"s":"3","b":"3u","i":24,"E":1.320,"v":0.579},{"s":"3","b":"3u","i":25,"E":1.389,"v":0.520},{"s":"3","b":"3u","i":26,"E":1.443,"v":0.483},{"s":"3","b":"3u","i":27,"E":1.488,"v":0.520},{"s":"3","b":"3u","i":28,"E":1.517,"v":0.625},{"s":"3","b":"3u","i":29,"E":1.537,"v":0.726},{"s":"3","b":"3u","i":30,"E":1.552,"v":0.818},{"s":"3","b":"3u","i":31,"E":1.562,"v":0.887},{"s":"3","b":"3u","i":32,"E":1.567,"v":0.930}
    ],
    "dots": [
      {"s":"3","E":-0.690,"v":0.864},{"s":"3","E":-0.685,"v":0.795},{"s":"3","E":-0.680,"v":0.726},{"s":"3","E":-0.675,"v":0.657},{"s":"3","E":-0.670,"v":0.589},{"s":"3","E":-0.665,"v":0.520},{"s":"3","E":-0.660,"v":0.451},{"s":"3","E":-0.655,"v":0.382},{"s":"3","E":-0.650,"v":0.313},{"s":"3","E":-0.645,"v":0.244},{"s":"3","E":-0.640,"v":0.175},{"s":"3","E":-0.635,"v":0.106},{"s":"3","E":-0.631,"v":0.037},{"s":"3","E":-0.626,"v":-0.032},{"s":"3","E":-0.621,"v":-0.101},{"s":"3","E":-0.616,"v":-0.170},
      {"s":"4","E":-0.635,"v":-0.055},{"s":"4","E":-0.631,"v":-0.115},{"s":"4","E":-0.631,"v":-0.170},{"s":"4","E":-0.626,"v":-0.225},{"s":"4","E":-0.631,"v":-0.276},{"s":"4","E":-0.631,"v":-0.317},
      {"s":"5","E":-0.645,"v":-0.032},{"s":"5","E":-0.640,"v":-0.101},{"s":"5","E":-0.635,"v":-0.170},{"s":"5","E":-0.635,"v":-0.225},
      {"s":"6","E":-0.621,"v":-0.087},{"s":"6","E":-0.621,"v":-0.152},
      {"s":"7","E":-0.616,"v":-0.253},{"s":"7","E":-0.606,"v":-0.299},{"s":"7","E":-0.631,"v":-0.354},{"s":"7","E":-0.606,"v":-0.377},{"s":"7","E":-0.626,"v":-0.409},{"s":"7","E":-0.616,"v":-0.432},{"s":"7","E":-0.631,"v":-0.451},{"s":"7","E":-0.616,"v":-0.464},{"s":"7","E":-0.626,"v":-0.483},
      {"s":"3","E":0.227,"v":0.782},{"s":"3","E":0.227,"v":0.671},{"s":"3","E":0.222,"v":0.579},{"s":"3","E":0.222,"v":0.483},{"s":"3","E":0.217,"v":0.395},{"s":"3","E":0.217,"v":0.308},{"s":"3","E":0.212,"v":0.225},{"s":"3","E":0.212,"v":0.147},{"s":"3","E":0.212,"v":0.069},{"s":"3","E":0.207,"v":0.000},
      {"s":"3","E":0.163,"v":-0.170},{"s":"3","E":0.167,"v":-0.216},{"s":"3","E":0.172,"v":-0.262},{"s":"3","E":0.177,"v":-0.308},{"s":"3","E":0.177,"v":-0.354},{"s":"3","E":0.177,"v":-0.391},{"s":"3","E":0.177,"v":-0.409},{"s":"3","E":0.197,"v":-0.147},{"s":"3","E":0.197,"v":-0.193},{"s":"3","E":0.192,"v":-0.239},
      {"s":"4","E":0.350,"v":0.841},{"s":"4","E":0.350,"v":0.786},{"s":"4","E":0.345,"v":0.726},{"s":"4","E":0.340,"v":0.671},{"s":"4","E":0.340,"v":0.616},{"s":"4","E":0.335,"v":0.561},{"s":"4","E":0.335,"v":0.510},{"s":"4","E":0.330,"v":0.460},{"s":"4","E":0.330,"v":0.405},{"s":"4","E":0.325,"v":0.354},{"s":"4","E":0.325,"v":0.303},{"s":"4","E":0.320,"v":0.257},{"s":"4","E":0.315,"v":0.211},{"s":"4","E":0.315,"v":0.170},{"s":"4","E":0.310,"v":0.129},{"s":"4","E":0.310,"v":0.087},{"s":"4","E":0.310,"v":0.046},
      {"s":"5","E":0.389,"v":0.726},{"s":"5","E":0.389,"v":0.690},{"s":"5","E":0.384,"v":0.644},{"s":"5","E":0.384,"v":0.602},{"s":"5","E":0.379,"v":0.566},{"s":"5","E":0.374,"v":0.529},{"s":"5","E":0.369,"v":0.487},{"s":"5","E":0.369,"v":0.451},{"s":"5","E":0.365,"v":0.414},{"s":"5","E":0.360,"v":0.372},{"s":"5","E":0.360,"v":0.336},{"s":"5","E":0.355,"v":0.299},{"s":"5","E":0.355,"v":0.257},{"s":"5","E":0.355,"v":0.221},{"s":"5","E":0.350,"v":0.184},{"s":"5","E":0.350,"v":0.143},{"s":"5","E":0.350,"v":0.106},{"s":"5","E":0.345,"v":0.069},{"s":"5","E":0.345,"v":0.032},
      {"s":"6","E":0.419,"v":0.566},{"s":"6","E":0.414,"v":0.529},{"s":"6","E":0.409,"v":0.487},{"s":"6","E":0.409,"v":0.446},{"s":"6","E":0.409,"v":0.405},{"s":"6","E":0.404,"v":0.363},{"s":"6","E":0.404,"v":0.322},{"s":"6","E":0.399,"v":0.280},{"s":"6","E":0.399,"v":0.239},{"s":"6","E":0.399,"v":0.198},{"s":"6","E":0.394,"v":0.156},{"s":"6","E":0.394,"v":0.115},{"s":"6","E":0.394,"v":0.074},{"s":"6","E":0.389,"v":0.032},
      {"s":"7","E":0.433,"v":0.487},{"s":"7","E":0.429,"v":0.441},{"s":"7","E":0.424,"v":0.395},{"s":"7","E":0.424,"v":0.349},{"s":"7","E":0.419,"v":0.303},{"s":"7","E":0.419,"v":0.257},{"s":"7","E":0.414,"v":0.211},{"s":"7","E":0.409,"v":0.166},{"s":"7","E":0.404,"v":0.120},{"s":"7","E":0.399,"v":0.074},{"s":"7","E":0.394,"v":0.028},
      {"s":"2","E":-0.005,"v":0.763},{"s":"2","E":-0.005,"v":0.671},{"s":"2","E":-0.010,"v":0.593},{"s":"2","E":-0.010,"v":0.506},{"s":"2","E":-0.010,"v":0.428},{"s":"2","E":-0.015,"v":0.349},{"s":"2","E":-0.015,"v":0.276},{"s":"2","E":-0.020,"v":0.211},{"s":"2","E":-0.020,"v":0.138},{"s":"2","E":-0.020,"v":0.078},{"s":"2","E":-0.074,"v":0.556},
      {"s":"2","E":-0.059,"v":-0.133},{"s":"2","E":-0.044,"v":-0.133},{"s":"2","E":-0.059,"v":-0.170},{"s":"2","E":-0.044,"v":-0.170},{"s":"2","E":-0.059,"v":-0.207},{"s":"2","E":-0.044,"v":-0.207},{"s":"2","E":-0.059,"v":-0.239},{"s":"2","E":-0.044,"v":-0.239},{"s":"2","E":-0.054,"v":-0.271},{"s":"2","E":-0.049,"v":-0.299},
      {"s":"1","E":-0.123,"v":-0.391},{"s":"1","E":-0.123,"v":-0.653},{"s":"1","E":-0.079,"v":-0.708},{"s":"1","E":-0.133,"v":-0.202},
      {"s":"5","E":1.833,"v":0.864},{"s":"7","E":1.837,"v":0.828},{"s":"3","E":1.837,"v":0.736},{"s":"3","E":1.837,"v":0.699},{"s":"4","E":1.837,"v":0.667},{"s":"7","E":1.837,"v":0.635},{"s":"2","E":1.842,"v":0.543},{"s":"3","E":1.842,"v":0.520},{"s":"4","E":1.837,"v":0.487},{"s":"5","E":1.837,"v":0.464},{"s":"7","E":1.837,"v":0.441},{"s":"2","E":1.842,"v":0.363},{"s":"3","E":1.842,"v":0.299},{"s":"4","E":1.837,"v":0.276},{"s":"4","E":1.837,"v":0.248},{"s":"2","E":1.842,"v":0.179},{"s":"3","E":1.842,"v":0.074},{"s":"3","E":1.842,"v":0.046},{"s":"2","E":1.847,"v":-0.005},{"s":"3","E":1.837,"v":-0.147},{"s":"2","E":1.847,"v":-0.193},{"s":"2","E":1.842,"v":-0.253},{"s":"6","E":1.842,"v":-0.354},{"s":"3","E":1.842,"v":-0.372},{"s":"2","E":1.842,"v":-0.552},{"s":"4","E":1.842,"v":-0.575},{"s":"3","E":1.842,"v":-0.607},{"s":"3","E":1.847,"v":-0.828}
    ],
    "leg": [{"k":"1"},{"k":"2"},{"k":"3"},{"k":"4"},{"k":"5"},{"k":"6"},{"k":"7"}]
  },
  "layer": [
    {
      "data": {"values": [{}]},
      "mark": {"type": "rect", "color": {"gradient": "radial", "x1": 0.55, "y1": 0.45, "r1": 0, "x2": 0.55, "y2": 0.45, "r2": 0.72, "stops": [{"offset": 0, "color": "rgba(0,0,0,0)"}, {"offset": 0.4, "color": "rgba(0,0,0,0.02)"}, {"offset": 1, "color": "rgba(0,0,0,0.22)"}]}}
    },
    {
      "data": {"name": "lines"},
      "mark": {"type": "line", "clip": true, "strokeWidth": 2.6, "strokeJoin": "round", "strokeCap": "round"},
      "encoding": {
        "x": {"field": "E", "type": "quantitative", "scale": {"domain": [-0.97, 2.074], "nice": false, "zero": false},
          "axis": {"orient": "bottom", "values": [-0.9,-0.8,-0.7,-0.6,-0.5,-0.4,-0.3,-0.2,-0.1,0,0.1,0.2,0.3,0.4,0.5,0.6,0.7,0.8,0.9,1,1.1,1.2,1.3,1.4,1.5,1.6,1.7,1.8,1.9,2],
            "labelExpr": "abs(datum.value*2-round(datum.value*2))<0.01 ? (abs(datum.value)<0.001 ? '0' : (abs(datum.value-round(datum.value))<0.001 ? format(datum.value,'d') : replace(format(datum.value,'.1f'),'\u2212','-'))) : ''",
            "tickSize": -4, "labelPadding": 9, "grid": true,
            "gridOpacity": {"condition": {"test": "abs(datum.value*2-round(datum.value*2))<0.01", "value": 1}, "value": 0}}},
        "y": {"field": "v", "type": "quantitative", "scale": {"domain": [-0.855, 0.874], "nice": false, "zero": false},
          "axis": {"values": [-0.8,-0.7,-0.6,-0.5,-0.4,-0.3,-0.2,-0.1,0,0.1,0.2,0.3,0.4,0.5,0.6,0.7,0.8],
            "labelExpr": "abs(datum.value*5-round(datum.value*5))<0.01 ? (abs(datum.value)<0.001 ? '0' : replace(format(datum.value,'.1f'),'\u2212','-')) : ''",
            "tickSize": -4, "labelPadding": 9, "grid": true,
            "gridOpacity": {"condition": {"test": "abs(datum.value*5-round(datum.value*5))<0.01", "value": 1}, "value": 0}}},
        "color": {"field": "s", "type": "nominal", "scale": {"domain": ["1","2","3","4","5","6","7"], "range": ["#b3b3b3","#f27cbc","#1a1ae0","#1f7a35","#33eeee","#f2f21a","#6b0f2e"]}, "legend": null},
        "detail": {"field": "b"},
        "order": {"field": "i", "type": "quantitative"}
      }
    },
    {
      "data": {"name": "dots"},
      "mark": {"type": "point", "filled": true, "size": 9, "opacity": 1, "clip": true},
      "encoding": {
        "x": {"field": "E", "type": "quantitative", "scale": {"domain": [-0.97, 2.074], "nice": false, "zero": false},
          "axis": {"orient": "top", "values": [-0.9,-0.8,-0.7,-0.6,-0.5,-0.4,-0.3,-0.2,-0.1,0,0.1,0.2,0.3,0.4,0.5,0.6,0.7,0.8,0.9,1,1.1,1.2,1.3,1.4,1.5,1.6,1.7,1.8,1.9,2], "labels": false, "grid": false, "tickSize": -4}},
        "y": {"field": "v", "type": "quantitative"},
        "color": {"field": "s", "type": "nominal", "scale": {"domain": ["1","2","3","4","5","6","7"], "range": ["#b3b3b3","#f27cbc","#1a1ae0","#1f7a35","#33eeee","#f2f21a","#6b0f2e"]}, "legend": null}
      }
    },
    {
      "data": {"values": [{}]},
      "mark": {"type": "text", "text": "dI/dE", "align": "left", "baseline": "alphabetic", "font": "Liberation Sans", "fontSize": 25, "color": "black"},
      "encoding": {"x": {"datum": -0.951, "axis": null}, "y": {"datum": 0.736}}
    },
    {
      "data": {"values": [{}]},
      "mark": {"type": "text", "text": "E, В", "align": "left", "baseline": "alphabetic", "font": "Liberation Sans", "fontSize": 24, "color": "black"},
      "encoding": {"x": {"datum": 1.837, "axis": null}, "y": {"datum": -0.8}}
    },
    {
      "data": {"name": "leg"},
      "mark": {"type": "point", "filled": true, "clip": true, "opacity": 1},
      "encoding": {
        "x": {"datum": 10, "axis": null},
        "y": {"datum": 0},
        "color": {"field": "k", "type": "nominal",
          "scale": {"domain": ["1","2","3","4","5","6","7"], "range": ["#8a8a8a","#ff3c98","#0e0ef0","#138a25","#2ff5f5","#ffd500","#ff2424"]},
          "legend": {"orient": "none", "legendX": 284, "legendY": 250, "columns": 2, "title": null, "padding": 0,
            "symbolType": "M-1,-0.5H1V0.5H-1Z", "symbolSize": 841, "symbolStrokeWidth": 0, "symbolOpacity": 1,
            "labelFont": "Liberation Sans", "labelFontSize": 25, "labelColor": "black", "labelOffset": 12,
            "rowPadding": 0, "columnPadding": 21}}
      }
    }
  ],
  "resolve": {"scale": {"color": "independent"}, "axis": {"x": "independent"}}
}
